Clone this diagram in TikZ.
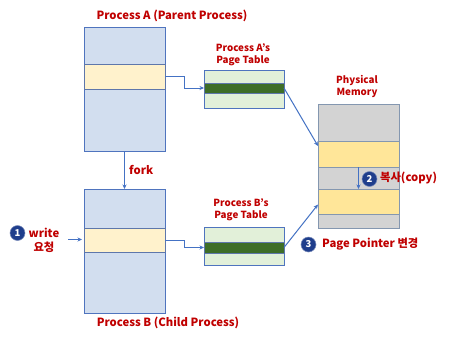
\documentclass[tikz,border=0pt]{standalone}
\usepackage{fontspec}
\setmainfont{Noto Sans CJK KR}
\usetikzlibrary{arrows.meta,calc}
\definecolor{pfill}{HTML}{D2DEEF}
\definecolor{pborder}{HTML}{4F74BE}
\definecolor{yband}{HTML}{FFF2CC}
\definecolor{tfill}{HTML}{E2F0D9}
\definecolor{tgreen}{HTML}{3E6E27}
\definecolor{mgray}{HTML}{D3D3D3}
\definecolor{myel}{HTML}{FFE699}
\definecolor{mborder}{HTML}{8497B0}
\definecolor{rtext}{HTML}{C00000}
\definecolor{navy}{HTML}{1F3E8C}
\definecolor{conn}{HTML}{4472C4}
\tikzset{
  rect/.style={inner sep=0pt, outer sep=0pt, anchor=north west, line width=1pt},
  procbox/.style={rect, draw=pborder, fill=pfill, minimum width=81pt},
  pband/.style={rect, draw=pborder!70!gray, fill=yband, minimum width=81pt},
  tbox/.style={rect, draw=pborder, fill=tfill, minimum width=80pt},
  tband/.style={rect, draw=pborder!70!gray, fill=tgreen, minimum width=80pt},
  mbox/.style={rect, draw=mborder, fill=mgray, minimum width=81pt},
  mband/.style={rect, draw=mborder, fill=myel, minimum width=81pt},
  lbl/.style={text=rtext, font=\bfseries\fontsize{11.3}{14}\selectfont, inner sep=0pt},
  slbl/.style={text=rtext, font=\bfseries\fontsize{9.8}{12}\selectfont, inner sep=0pt, align=center},
  numc/.style={circle, fill=navy, draw=navy!60, line width=0.5pt, text=white, font=\bfseries\fontsize{9.5}{9.5}\selectfont, inner sep=0pt, minimum size=15pt},
  arr/.style={draw=conn, line width=1pt, -{Stealth[length=4.5pt,width=4pt]}}
}
\begin{document}
\begin{tikzpicture}[x=1pt,y=-1pt]
\useasboundingbox[fill=white] (0,0) rectangle (453,338);
% Process A
\node[procbox, minimum height=124pt] (pa) at (84,27) {};
\node[pband, minimum height=25pt] (pay) at (84,64) {};
\node[lbl] (ta) at (172,16) {Process A (Parent Process)};
% Process B
\node[procbox, minimum height=124pt] (pb) at (84,189) {};
\node[pband, minimum height=24pt] (pby) at (84,228) {};
\node[lbl] (tb) at (168,323) {Process B (Child Process)};
% Page table A
\node[tbox, minimum height=38pt] (pga) at (204,70) {};
\node[tband, minimum height=10pt] (ga) at (204,83) {};
\node[slbl] (tta) at (243,55) {Process A’s\\Page Table};
% Page table B
\node[tbox, minimum height=38pt] (pgb) at (204,227) {};
\node[tband, minimum height=11pt] (gb) at (204,242) {};
\node[slbl] (ttb) at (241,210) {Process B’s\\Page Table};
% Physical memory
\node[mbox, minimum height=124pt] (mem) at (318,104) {};
\node[mband, minimum height=26pt] (my1) at (318,141) {};
\node[mband, minimum height=25pt] (my2) at (318,189) {};
\node[slbl] (tm) at (357,86) {Physical\\Memory};
% connectors
\draw[arr] (pay.east) -- ++(19,0) |- (ga.west);
\draw[arr] (pby.east) -- ++(19,0) |- (gb.west);
\draw[arr] (pa.south) -- (pb.north);
\node[lbl, anchor=west] (fork) at (129,170) {fork};
\draw[arr] (ga.east) -- ([yshift=-5pt]my1.north west);
\draw[arr] (gb.east) -- ([yshift=-3pt]my2.west);
\draw[arr] (my1.south) -- (my2.north);
% write
\node[numc] (n1) at (17.5,233) {1};
\node[lbl, align=center] (wr) at (44,240) {write\\요청};
\coordinate (ws) at (68,239.5);
\draw[arr, shorten >=2pt] (ws) -- (ws -| pby.west);
% copy
\node[numc] (n2) at (369.5,179) {2};
\node[lbl, anchor=west] (cp) at (380,178) {복사(copy)};
% page pointer
\node[numc] (n3) at (308.5,244.5) {3};
\node[lbl, anchor=west] (pp) at (322,244) {Page Pointer 변경};
\end{tikzpicture}
\end{document}
